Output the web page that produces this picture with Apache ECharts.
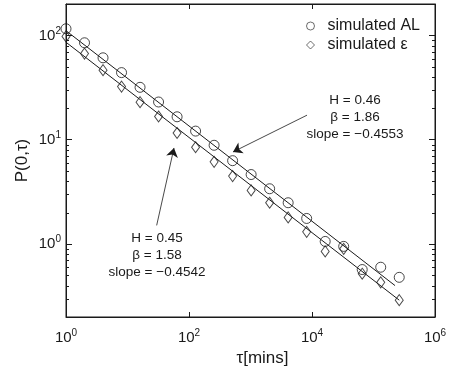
<!DOCTYPE html>
<html>
<head>
<meta charset="utf-8">
<script src="https://cdn.jsdelivr.net/npm/echarts@6/dist/echarts.min.js"></script>
<style>
  html, body { margin: 0; padding: 0; background: #fff; }
  #chart { width: 452px; height: 372px; }
</style>
</head>
<body>
<div id="chart"></div>
<script>
// tau in minutes (powers of two)
const tau = [1, 2, 4, 8, 16, 32, 64, 128, 256, 512, 1024, 2048, 4096, 8192, 16384, 32768, 65536, 131072, 262144]
const simAL = [115.8, 85, 61, 44, 31.8, 23, 16.6, 12.1, 8.85, 6.3, 4.64, 3.39, 2.49, 1.76, 1.06, 0.95, 0.57, 0.60, 0.48]
const simEps = [97.8, 67, 46.4, 32.3, 22.9, 16.7, 11.6, 8.47, 6.14, 4.48, 3.27, 2.49, 1.80, 1.31, 0.85, 0.90, 0.52, 0.43, 0.29]
// fitted power-law lines (end points)
const fitAL = [[1, 111], [224000, 0.40]]
const fitEps = [[1, 86], [262144, 0.29]]
// annotation arrows: [from, to] in data coordinates
const arrowAL = [[8300, 17.2], [519, 7.64]]
const arrowEps = [[29.8, 1.51], [57, 8.34]]
const yMinorTicks = [0.3, 0.4, 0.5, 0.6, 0.7, 0.8, 0.9, 2, 3, 4, 5, 6, 7, 8, 9, 20, 30, 40, 50, 60, 70, 80, 90]

const chart = echarts.init(document.getElementById('chart'))

const ink = '#1a1a1a'
const font = 'Liberation Sans, Arial, Helvetica, sans-serif'

function powLabel(v) {
  const e = Math.log10(v)
  if (Math.abs(e - Math.round(e)) > 1e-6) return ''
  return '{b|10}{s|' + Math.round(e) + '}'
}

const labelRich = {
  b: { fontSize: 15, fontFamily: font, color: ink },
  s: { fontSize: 10, fontFamily: font, color: ink, padding: [0, 0, 9, 0] },
}

const baseX = {
  type: 'log',
  logBase: 100,
  min: 1,
  max: 1e6,
  axisLine: { show: true, lineStyle: { color: ink, width: 1 } },
  axisTick: { show: true, inside: true, length: 5, lineStyle: { color: ink } },
  splitLine: { show: false },
}

const baseY = {
  type: 'log',
  logBase: 10,
  min: 0.2,
  max: 200,
  axisLine: { show: true, lineStyle: { color: ink, width: 1 } },
  axisTick: { show: true, inside: true, length: 6, lineStyle: { color: ink } },
  splitLine: { show: false },
}

const noteStyle = {
  font: '13.5px ' + font,
  fill: ink,
  align: 'center',
  verticalAlign: 'top',
  lineHeight: 17,
}

const option = {
  animation: false,
  backgroundColor: '#fff',
  grid: { left: 66, right: 17, top: 4, bottom: 52, show: true, borderColor: ink, borderWidth: 1 },
  legend: {
    data: ['simulated AL', 'simulated ε'],
    orient: 'vertical',
    right: 27,
    top: 13,
    itemWidth: 8,
    itemHeight: 8,
    itemGap: 3,
    itemStyle: { borderWidth: 0.8 },
    textStyle: { fontSize: 16, fontFamily: font, color: ink, padding: [0, 0, 0, 8] },
  },
  xAxis: [
    {
      ...baseX,
      position: 'bottom',
      name: 'τ[mins]',
      nameLocation: 'middle',
      nameGap: 33,
      nameMoveOverlap: false,
      nameTextStyle: { fontSize: 17, fontFamily: font, color: ink, padding: [0, 0, 0, 24] },
      axisLabel: { margin: 11, formatter: powLabel, rich: labelRich },
    },
    { ...baseX, position: 'top', axisLabel: { show: false } },
  ],
  yAxis: [
    {
      ...baseY,
      position: 'left',
      name: 'P(0,τ)',
      nameLocation: 'middle',
      nameGap: 35,
      nameMoveOverlap: false,
      nameTextStyle: { fontSize: 17, fontFamily: font, color: ink },
      axisLabel: { margin: 5, formatter: powLabel, rich: labelRich },
    },
    { ...baseY, position: 'right', axisLabel: { show: false } },
  ],
  graphic: [
    {
      type: 'text',
      x: 355,
      y: 92,
      style: { ...noteStyle, text: 'H = 0.46\nβ = 1.86\nslope = −0.4553' },
    },
    {
      type: 'text',
      x: 157,
      y: 230,
      style: { ...noteStyle, text: 'H = 0.45\nβ = 1.58\nslope = −0.4542' },
    },
  ],
  series: [
    {
      name: 'fit AL',
      type: 'line',
      data: fitAL,
      symbol: 'none',
      silent: true,
      lineStyle: { color: ink, width: 1 },
      markLine: {
        silent: true,
        symbol: ['none', 'arrow'],
        symbolSize: 9,
        label: { show: false },
        lineStyle: { color: ink, width: 0.8, type: 'solid' },
        data: [
          [{ coord: arrowAL[0] }, { coord: arrowAL[1] }],
          [{ coord: arrowEps[0] }, { coord: arrowEps[1] }],
        ],
      },
    },
    {
      name: 'fit ε',
      type: 'line',
      data: fitEps,
      symbol: 'none',
      silent: true,
      lineStyle: { color: ink, width: 1 },
    },
    {
      name: 'simulated AL',
      type: 'scatter',
      data: tau.map((t, i) => [t, simAL[i]]),
      symbol: 'circle',
      symbolSize: 10,
      itemStyle: { color: 'rgba(255,255,255,0)', borderColor: ink, borderWidth: 1 },
    },
    {
      name: 'simulated ε',
      type: 'scatter',
      data: tau.map((t, i) => [t, simEps[i]]),
      symbol: 'diamond',
      symbolSize: [8, 11],
      itemStyle: { color: 'rgba(255,255,255,0)', borderColor: ink, borderWidth: 1 },
    },
    {
      name: 'minor ticks',
      type: 'custom',
      silent: true,
      data: yMinorTicks.map((v) => [1, v]),
      renderItem: function (params, api) {
        const cs = params.coordSys
        const y = Math.round(api.coord([1, api.value(1)])[1]) + 0.5
        return {
          type: 'group',
          children: [
            { type: 'line', shape: { x1: cs.x, y1: y, x2: cs.x + 3, y2: y }, style: { stroke: ink, lineWidth: 1 } },
            { type: 'line', shape: { x1: cs.x + cs.width - 3, y1: y, x2: cs.x + cs.width, y2: y }, style: { stroke: ink, lineWidth: 1 } },
          ],
        }
      },
    },
  ],
}

chart.setOption(option)
</script>
</body>
</html>
